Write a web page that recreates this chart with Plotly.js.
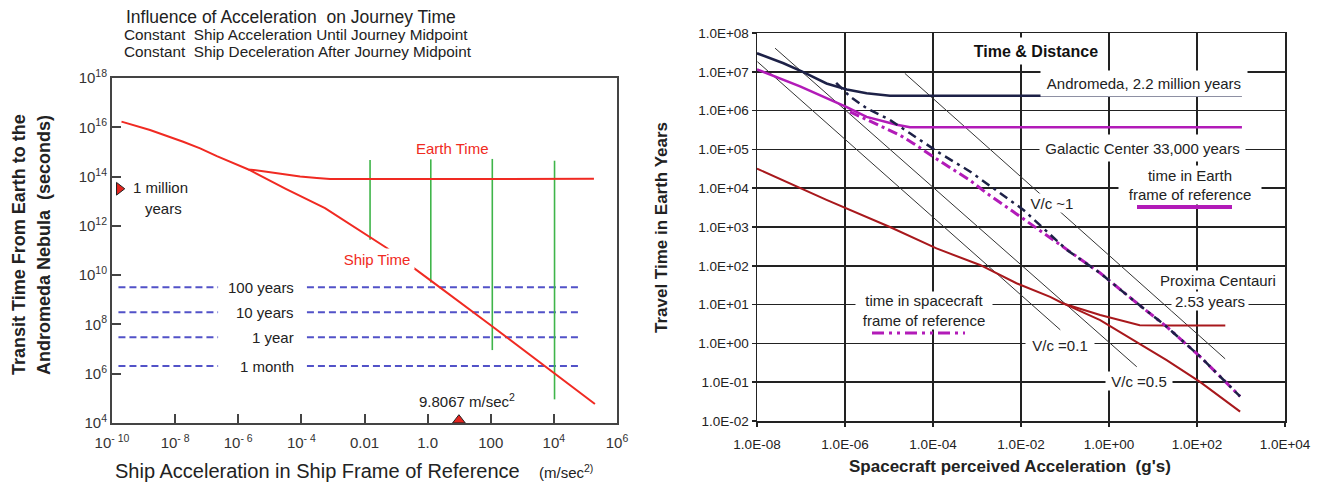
<!DOCTYPE html>
<html><head><meta charset="utf-8">
<script src="https://cdn.plot.ly/plotly-3.0.1.min.js"></script>
<style>html,body{margin:0;padding:0;background:#fff}#chart{width:1320px;height:490px}</style>
</head><body><div id="chart"></div>
<script>
// ---------------- LEFT PANEL DATA (acceleration m/s^2, time s) ----------------
const earthAccel   = [2.0e-10, 1.6e-9, 1.8e-8, 6.2e-8, 2.1e-7, 6.9e-7, 2.1e-6, 7.9e-6, 2.7e-5, 9.1e-5, 3.1e-4, 8.1e-4, 0.1, 10, 1000, 1.86e5];
const earthTimeSec = [1.7e16, 7.8e15, 2.6e15, 1.4e15, 6.8e14, 3.6e14, 1.95e14, 1.58e14, 1.26e14, 1.0e14, 8.7e13, 7.9e13, 7.9e13, 7.9e13, 8.1e13, 8.1e13];
const shipAccel    = [2.1e-6, 3.2e-5, 5.6e-4, 6.3e-3, 5.1e-2, 1.2, 100, 2.0e5];
const shipTimeSec  = [1.95e14, 3.2e13, 5.2e12, 7.1e11, 1.26e11, 6.3e9, 9.3e7, 5.9e4];
const greenAccel   = [1.5e-2, 1.26, 112, 1.05e4];
const greenTop     = [4.7e14, 5.0e14, 5.2e14, 4.4e14];
const greenBottom  = [2.7e11, 5.0e9, 9.1e6, 9.1e4];
const refLevelNames = ['100 years', '10 years', '1 year', '1 month'];
const refLevelSec   = [3.2e9, 3.1e8, 3.0e7, 2.05e6];
const refDashLeft   = [1.6e-10, 2.3e-7];
const refDashRight  = [1.5e-4, 7.6e4];
const millionYearsMarker = {x: 1.7e-10, y: 3.2e13};
const gMarker = {x: 9.8067, y: 1.3e4};
const leftXTickVals = [1e-10, 1e-8, 1e-6, 1e-4, 1e-2, 1, 100, 1e4, 1e6];
const leftXTickText = ['10<sup>- 10</sup>', '10<sup>- 8</sup>', '10<sup>- 6</sup>', '10<sup>- 4</sup>', '0.01', '1.0', '100', '10<sup>4</sup>', '10<sup>6</sup>'];
const leftYTickVals = [1e4, 1e6, 1e8, 1e10, 1e12, 1e14, 1e16, 1e18];
const leftYTickText = ['10<sup>4</sup>', '10<sup>6</sup>', '10<sup>8</sup>', '10<sup>10</sup>', '10<sup>12</sup>', '10<sup>14</sup>', '10<sup>16</sup>', '10<sup>18</sup>'];

// ---------------- RIGHT PANEL DATA (acceleration g, time years) ----------------
const andromedaEarthG  = [1.0e-8, 4.0e-8, 1.1e-7, 3.8e-7, 1.1e-6, 3.1e-6, 1.05e-5, 1050];
const andromedaEarthYr = [3.0e7, 1.66e7, 1.0e7, 5.0e6, 3.5e6, 2.8e6, 2.4e6, 2.4e6];
const galacticEarthG   = [1.0e-8, 9.5e-8, 1.1e-6, 3.1e-6, 1.5e-5, 3.0e-5, 1050];
const galacticEarthYr  = [1.15e7, 4.2e6, 1.23e6, 6.9e5, 4.3e5, 3.7e5, 3.7e5];
const andromedaShipG   = [6.3e-7, 1.3e-6, 3.1e-6, 1.05e-5, 3.0e-5, 1.45e-4, 6.9e-4, 1.12e-2, 0.11, 0.63, 3.5, 20.4, 117, 955];
const andromedaShipYr  = [5.2e6, 2.3e6, 1.15e6, 5.75e5, 2.6e5, 7.9e4, 2.7e4, 2.8e3, 257, 65, 13.2, 2.7, 0.46, 0.043];
const galacticShipG    = [1.3e-6, 1.8e-5, 3.5e-5, 1.0e-4, 6.9e-4, 1.66e-3, 6.6e-3, 9.5e-3, 0.11, 0.63, 3.5, 20.4, 117, 955];
const galacticShipYr   = [9.3e5, 2.3e5, 1.45e5, 6.5e4, 1.6e4, 7.4e3, 2.5e3, 1.86e3, 257, 65, 13.2, 2.7, 0.46, 0.043];
const proximaEarthG    = [1.0e-8, 3.8e-7, 1.05e-5, 1.2e-4, 1.17e-3, 7.9e-3, 4.6e-2, 9.1e-2, 0.63, 5.0, 20, 440];
const proximaEarthYr   = [3.2e4, 5.0e3, 1.0e3, 2.8e2, 1.05e2, 35.5, 15.8, 10.7, 5.4, 2.95, 2.9, 2.9];
const proximaShipG     = [9.1e-2, 0.63, 3.5, 20.4, 117, 955];
const proximaShipYr    = [10.7, 4.0, 1.23, 0.37, 0.102, 0.0174];
const vc01G  = [1.02e-8, 7.8e-2];   const vc01Yr = [1.82e7, 2.24];
const vc05G  = [2.57e-8, 4.27];     const vc05Yr = [4.07e7, 0.25];
const vc1G   = [2.29e-5, 437];      const vc1Yr  = [9.1e6, 0.40];
const rightXTickVals = [1e-8, 1e-6, 1e-4, 1e-2, 1, 100, 1e4];
const rightXTickText = ['1.0E-08', '1.0E-06', '1.0E-04', '1.0E-02', '1.0E+00', '1.0E+02', '1.0E+04'];
const rightYTickVals = [1e-2, 1e-1, 1, 10, 100, 1e3, 1e4, 1e5, 1e6, 1e7, 1e8];
const rightYTickText = ['1.0E-02', '1.0E-01', '1.0E+00', '1.0E+01', '1.0E+02', '1.0E+03', '1.0E+04', '1.0E+05', '1.0E+06', '1.0E+07', '1.0E+08'];

// ---------------- styling ----------------
const RED = '#f02a22', GREEN = '#3fb54a', BLUE = '#5252c8';
const NAVY = '#1d2147', MAG = '#b21bb8', DRED = '#a8181c';
const FONT = 'Liberation Sans, Arial, Helvetica, sans-serif';

function vsegs(xs, tops, bots) {
  const x = [], y = [];
  xs.forEach((v, i) => { x.push(v, v, null); y.push(tops[i], bots[i], null); });
  return {x, y};
}
function hsegs(levels) {
  const x = [], y = [];
  levels.forEach(l => {
    x.push(refDashLeft[0], refDashLeft[1], null, refDashRight[0], refDashRight[1], null);
    y.push(l, l, null, l, l, null);
  });
  return {x, y};
}
const g = vsegs(greenAccel, greenTop, greenBottom);
const h = hsegs(refLevelSec);

const traces = [
  {x: h.x, y: h.y, xaxis: 'x', yaxis: 'y', mode: 'lines', line: {color: BLUE, width: 2, dash: '7px,4px'}},
  {x: g.x, y: g.y, xaxis: 'x', yaxis: 'y', mode: 'lines', line: {color: GREEN, width: 1.6}},
  {x: earthAccel, y: earthTimeSec, xaxis: 'x', yaxis: 'y', mode: 'lines', line: {color: RED, width: 2}},
  {x: shipAccel, y: shipTimeSec, xaxis: 'x', yaxis: 'y', mode: 'lines', line: {color: RED, width: 2}},
  {x: [millionYearsMarker.x], y: [millionYearsMarker.y], xaxis: 'x', yaxis: 'y', mode: 'markers', cliponaxis: false,
   marker: {symbol: 'triangle-right', size: 11, color: '#e3241e', line: {color: '#222', width: 1}}},
  {x: [gMarker.x], y: [gMarker.y], xaxis: 'x', yaxis: 'y', mode: 'markers', cliponaxis: false,
   marker: {symbol: 'triangle-up', size: 11, color: '#e3241e', line: {color: '#222', width: 1}}},
  // right panel
  {x: vc01G, y: vc01Yr, xaxis: 'x2', yaxis: 'y2', mode: 'lines', line: {color: '#333', width: 1}},
  {x: vc05G, y: vc05Yr, xaxis: 'x2', yaxis: 'y2', mode: 'lines', line: {color: '#333', width: 1}},
  {x: vc1G, y: vc1Yr, xaxis: 'x2', yaxis: 'y2', mode: 'lines', line: {color: '#333', width: 1}},
  {x: proximaEarthG, y: proximaEarthYr, xaxis: 'x2', yaxis: 'y2', mode: 'lines', line: {color: DRED, width: 2}},
  {x: proximaShipG, y: proximaShipYr, xaxis: 'x2', yaxis: 'y2', mode: 'lines', line: {color: DRED, width: 2}},
  {x: galacticEarthG, y: galacticEarthYr, xaxis: 'x2', yaxis: 'y2', mode: 'lines', line: {color: MAG, width: 2.5}},
  {x: galacticShipG, y: galacticShipYr, xaxis: 'x2', yaxis: 'y2', mode: 'lines', line: {color: MAG, width: 3, dash: '10px,4px,3px,4px'}},
  {x: andromedaEarthG, y: andromedaEarthYr, xaxis: 'x2', yaxis: 'y2', mode: 'lines', line: {color: NAVY, width: 2.5}},
  {x: andromedaShipG, y: andromedaShipYr, xaxis: 'x2', yaxis: 'y2', mode: 'lines', line: {color: NAVY, width: 2.5, dash: '9px,5px,3px,5px'}}
];

const PX = x => x / 1320, PY = y => 1 - y / 490;
function ann(text, x, y, o) {
  return Object.assign({text, x: PX(x), y: PY(y), xref: 'paper', yref: 'paper', showarrow: false,
    xanchor: 'center', yanchor: 'middle', font: {family: FONT, size: 15, color: '#222'}}, o || {});
}
function box(text, x, y, w, hgt, o) {
  return ann(text, x, y, Object.assign({width: w, height: hgt, bgcolor: 'white', borderpad: 0}, o || {}));
}

const annotations = [
  ann('Influence of Acceleration  on Journey Time', 124, 17, {xanchor: 'left', font: {family: FONT, size: 17.5, color: '#222'}}),
  ann('Constant  Ship Acceleration Until Journey Midpoint', 122, 35, {xanchor: 'left', font: {family: FONT, size: 15.3, color: '#222'}}),
  ann('Constant  Ship Deceleration After Journey Midpoint', 122, 52, {xanchor: 'left', font: {family: FONT, size: 15.3, color: '#222'}}),
  ann('<b>Transit Time From Earth to the</b>', 19, 245, {textangle: -90, font: {family: FONT, size: 18, color: '#222'}}),
  ann('<b>Andromeda Nebula  (seconds)</b>', 44, 245, {textangle: -90, font: {family: FONT, size: 18, color: '#222'}}),
  ann('Ship Acceleration in Ship Frame of Reference', 113, 471, {xanchor: 'left', font: {family: FONT, size: 20, color: '#222'}}),
  ann('(m/sec<sup>2)</sup>', 537, 471, {xanchor: 'left', font: {family: FONT, size: 15, color: '#222'}}),
  ann('Earth Time', 452, 148, {font: {family: FONT, size: 15, color: RED}}),
  box('Ship Time', 377, 259, 74, 20, {font: {family: FONT, size: 15, color: RED}}),
  ann('1 million', 131, 188, {xanchor: 'left', font: {family: FONT, size: 15, color: '#222'}}),
  ann('years', 143, 208, {xanchor: 'left', font: {family: FONT, size: 15, color: '#222'}}),
  ann('9.8067 m/sec<sup>2</sup>', 467, 400, {font: {family: FONT, size: 15, color: '#222'}}),
  // right panel
  ann('<b>Travel Time in Earth Years</b>', 661, 228, {textangle: -90, font: {family: FONT, size: 17, color: '#222'}}),
  ann('<b>Spacecraft perceived Acceleration  (g\'s)</b>', 1010, 466, {font: {family: FONT, size: 17, color: '#222'}}),
  box('<b>Time &amp; Distance</b>', 1036, 51, 140, 26, {font: {family: FONT, size: 16, color: '#111'}}),
  box('Andromeda, 2.2 million years', 1144, 83, 206, 25),
  box('Galactic Center 33,000 years', 1142, 148, 205, 26),
  box('time in Earth<br>frame of reference', 1190, 185, 142, 38),
  box('V/c ~1', 1052, 203, 48, 18),
  box('Proxima Centauri', 1218, 280, 124, 18),
  box('2.53 years', 1210, 301, 76, 18),
  box('time in spacecraft<br>frame of reference', 924, 310, 136, 37),
  box('V/c =0.1', 1060, 345, 68, 18),
  box('V/c =0.5', 1139, 381, 66, 18)
];
refLevelNames.forEach((name, i) => {
  annotations.push({text: name, xref: 'paper', yref: 'y', x: PX(296), y: Math.log10(refLevelSec[i]),
    xanchor: 'right', yanchor: 'middle', showarrow: false, font: {family: FONT, size: 15, color: '#222'}});
});

const shapes = [
  {type: 'line', xref: 'paper', yref: 'paper', x0: PX(1137), x1: PX(1232), y0: PY(207), y1: PY(207), line: {color: MAG, width: 4}},
  {type: 'line', xref: 'paper', yref: 'paper', x0: PX(872), x1: PX(965), y0: PY(333), y1: PY(333), line: {color: MAG, width: 3, dash: '12px,5px,3px,5px,3px,5px'}}
];

const axBase = {type: 'log', showgrid: false, zeroline: false, showline: true, mirror: true, fixedrange: true};
const layout = {
  width: 1320, height: 490, margin: {l: 0, r: 0, t: 0, b: 0},
  paper_bgcolor: 'white', plot_bgcolor: 'white', showlegend: false,
  font: {family: FONT, color: '#222'},
  xaxis: Object.assign({}, axBase, {domain: [112 / 1320, 617 / 1320], range: [-10, 6], anchor: 'y',
    tickmode: 'array', tickvals: leftXTickVals, ticktext: leftXTickText, ticks: 'inside', ticklen: 9, tickwidth: 2,
    tickcolor: '#444', linecolor: '#444', linewidth: 2, tickfont: {family: FONT, size: 15, color: '#333'}, ticklabelstandoff: 5}),
  yaxis: Object.assign({}, axBase, {domain: [67 / 490, 412 / 490], range: [4, 18], anchor: 'x',
    tickmode: 'array', tickvals: leftYTickVals, ticktext: leftYTickText, ticks: 'inside', ticklen: 9, tickwidth: 2,
    tickcolor: '#444', linecolor: '#444', linewidth: 2, tickfont: {family: FONT, size: 15, color: '#333'}}),
  xaxis2: Object.assign({}, axBase, {domain: [757 / 1320, 1285 / 1320], range: [-8, 4], anchor: 'y2',
    tickmode: 'array', tickvals: rightXTickVals, ticktext: rightXTickText, ticks: 'outside', ticklen: 4, tickwidth: 1.5,
    tickcolor: '#222', linecolor: '#222', linewidth: 1.5, showgrid: true, gridcolor: '#222', gridwidth: 1.5,
    tickfont: {family: FONT, size: 13.5, color: '#222'}, ticklabelstandoff: 6}),
  yaxis2: Object.assign({}, axBase, {domain: [69 / 490, 457 / 490], range: [-2, 8], anchor: 'x2',
    tickmode: 'array', tickvals: rightYTickVals, ticktext: rightYTickText, ticks: 'outside', ticklen: 4, tickwidth: 1.5,
    tickcolor: '#222', linecolor: '#222', linewidth: 1.5, showgrid: true, gridcolor: '#222', gridwidth: 1.5,
    tickfont: {family: FONT, size: 13.5, color: '#222'}}),
  annotations, shapes
};
traces.forEach(t => { t.hoverinfo = 'skip'; });
Plotly.newPlot('chart', traces, layout, {displayModeBar: false, staticPlot: true});
</script>
</body></html>
